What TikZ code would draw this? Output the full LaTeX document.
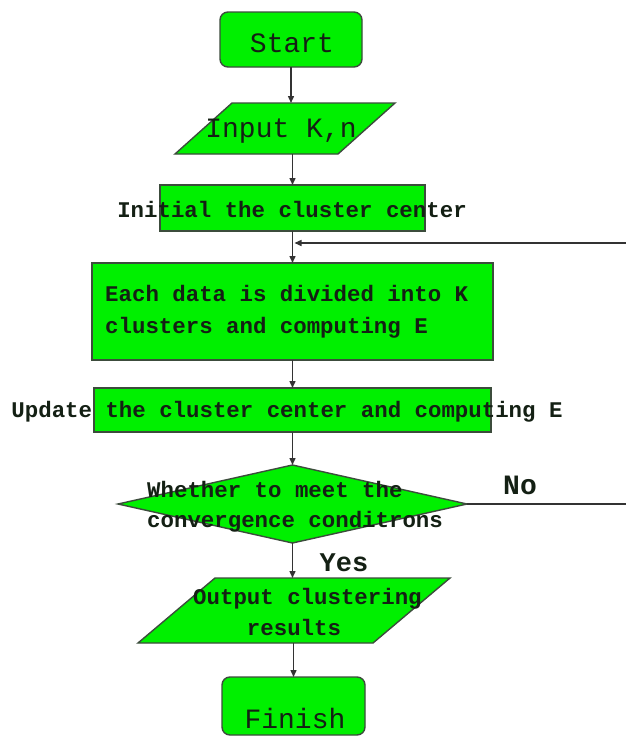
\documentclass[tikz,border=0pt]{standalone}
\usepackage{fontspec}
\setmonofont{Liberation Mono}
\usetikzlibrary{shapes.geometric,arrows.meta,calc}
\definecolor{boxgreen}{HTML}{00F000}
\definecolor{edgecol}{HTML}{3C4C3C}
\definecolor{linecol}{HTML}{333333}
\definecolor{txtcol}{HTML}{142014}
\begin{document}
\begin{tikzpicture}[x=1pt,y=-1pt,
  shp/.style={draw=edgecol, fill=boxgreen, line width=1.4pt, inner sep=0pt, outer sep=0pt},
  termbox/.style={shp, rectangle, rounded corners=8pt},
  procbox/.style={shp, rectangle},
  iobound/.style={rectangle, inner sep=0pt, outer sep=0pt},
  decbox/.style={shp, diamond},
  bigtxt/.style={text=txtcol, inner sep=0pt, font=\ttfamily\fontsize{28}{32}\selectfont},
  smalltxt/.style={text=txtcol, inner sep=0pt, font=\ttfamily\bfseries\fontsize{22.4}{32}\selectfont, align=left},
  arrline/.style={draw=linecol, line width=1.4pt, -{Triangle[length=7pt,width=6pt]}}]
\path[use as bounding box, fill=white] (0,0) rectangle (626,737);
% shapes
\node[termbox, minimum width=142, minimum height=55] (start) at (291,39.5) {};
\node[iobound, minimum width=220, minimum height=51] (input) at (285,128.5) {};
\draw[shp] (input.south west) -- ($(input.north west)+(57,0)$) -- (input.north east) -- ($(input.south east)-(57,0)$) -- cycle;
\node[procbox, minimum width=265, minimum height=46] (init) at (292.5,208) {};
\node[procbox, minimum width=401, minimum height=97] (each) at (292.5,311.5) {};
\node[procbox, minimum width=397, minimum height=44] (upd) at (292.5,410) {};
\node[decbox, minimum width=349, minimum height=78] (cond) at (292.5,504) {};
\node[iobound, minimum width=312, minimum height=65] (out) at (294,610.5) {};
\draw[shp] (out.south west) -- ($(out.north west)+(77,0)$) -- (out.north east) -- ($(out.south east)-(77,0)$) -- cycle;
\node[termbox, minimum width=143, minimum height=58] (fin) at (293.5,706) {};
% texts
\node[bigtxt] (tstart) at (292,43) {Start};
\node[bigtxt] (tinput) at (281,131) {Input K,n};
\node[smalltxt] (tinit) at (292,209) {Initial the cluster center};
\node[smalltxt, anchor=west] (teach) at (105,312) {Each data is divided into K\\clusters and computing E};
\node[smalltxt] (tupd) at (287,412) {Update the cluster center and computing E};
\node[smalltxt, anchor=west] (tcond) at (147,507) {Whether to meet the\\[-2pt]convergence conditrons};
\node[smalltxt, anchor=west] (tout) at (193,612) {Output clustering\\[-1pt]\hphantom{Outp}results};
\node[bigtxt] (tfin) at (295,718) {Finish};
\node[bigtxt, font=\ttfamily\bfseries\fontsize{28}{32}\selectfont] (tno) at (520,485) {No};
\node[bigtxt, font=\ttfamily\bfseries\fontsize{27}{32}\selectfont] (tyes) at (344,563) {Yes};
% connectors
\coordinate (join) at (292.5,243);
\coordinate (rt) at (634,243);
\draw[arrline] (start.south) -- (start.south |- input.north);
\draw[arrline] (input.south -| init.north) -- (init.north);
\draw[arrline] (init.south) -- (each.north);
\draw[arrline] (each.south) -- (upd.north);
\draw[arrline] (upd.south) -- (cond.north);
\draw[arrline] (cond.south) -- (cond.south |- out.north);
\draw[arrline] (out.south -| fin.north) -- (fin.north);
\draw[arrline] (cond.east) -- (cond.east -| rt) -- (rt) -- ([xshift=2]join);
\end{tikzpicture}
\end{document}
